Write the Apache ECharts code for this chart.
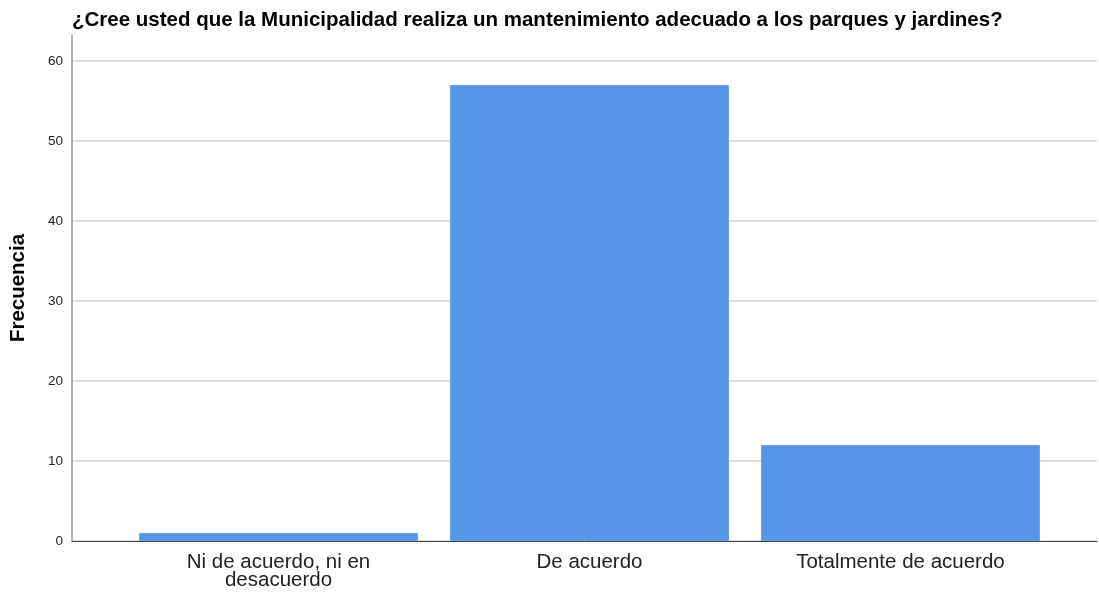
<!DOCTYPE html>
<html>
<head>
<meta charset="utf-8">
<script src="https://cdn.jsdelivr.net/npm/echarts@6/dist/echarts.min.js"></script>
<style>html,body{margin:0;padding:0;background:#fff;}#c{width:1099px;height:594px;}</style>
</head>
<body>
<div id="c"></div>
<script>
const title = '¿Cree usted que la Municipalidad realiza un mantenimiento adecuado a los parques y jardines?';
const categories = ['Ni de acuerdo, ni en\ndesacuerdo', 'De acuerdo', 'Totalmente de acuerdo'];
const frecuencia = [1, 57, 12];
const yTicks = [0, 10, 20, 30, 40, 50, 60];

const chart = echarts.init(document.getElementById('c'), null, {renderer: 'canvas'});
const positions = categories.map((c, i) => i);
chart.setOption({
  animation: false,
  backgroundColor: '#ffffff',
  title: {
    text: title,
    left: 67, top: 5,
    textStyle: {fontFamily: 'Liberation Sans', fontSize: 20.5, fontWeight: 'bold', color: '#000'}
  },
  grid: {left: 72, right: 2, top: 35, bottom: 53, containLabel: false},
  xAxis: {
    type: 'value',
    min: -0.664, max: 2.632,
    axisLine: {show: true, onZero: false, lineStyle: {color: '#444', width: 1}},
    axisTick: {show: false},
    splitLine: {show: false},
    axisLabel: {
      customValues: positions,
      formatter: v => categories[Math.round(v)],
      fontFamily: 'Liberation Sans', fontSize: 20.5, color: '#222',
      lineHeight: 18, margin: 12, align: 'center'
    }
  },
  yAxis: {
    type: 'value',
    min: 0, max: 63.25, interval: 10,
    name: 'Frecuencia',
    nameLocation: 'middle', nameGap: 43, nameRotate: 90,
    nameTextStyle: {fontFamily: 'Liberation Sans', fontSize: 20.5, fontWeight: 'bold', color: '#000'},
    axisLine: {show: true, onZero: false, lineStyle: {color: '#999', width: 1.5}},
    axisTick: {show: false},
    splitLine: {show: true, showMaxLine: false, lineStyle: {color: '#d0d0d0', width: 1.5}},
    axisLabel: {
      fontFamily: 'Liberation Sans', fontSize: 13.5, color: '#222', margin: 9,
      showMaxLabel: false,
      formatter: v => (yTicks.includes(v) ? String(v) : '')
    }
  },
  series: [{
    type: 'bar',
    data: frecuencia.map((v, i) => [positions[i], v]),
    barWidth: 279,
    itemStyle: {color: '#5596e6', borderColor: '#6aa3ea', borderWidth: 1}
  }]
});
</script>
</body>
</html>
